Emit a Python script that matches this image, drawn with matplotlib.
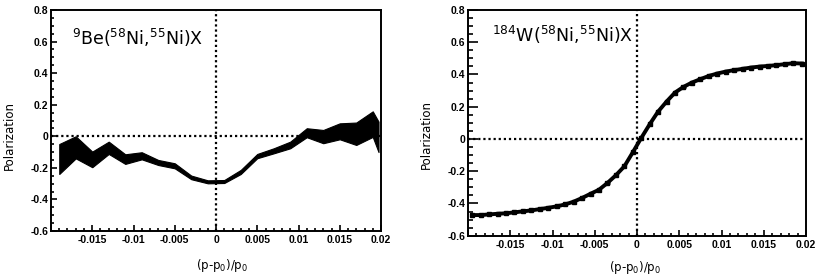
import matplotlib
matplotlib.use('Agg')
import matplotlib.pyplot as plt
import numpy as np
from matplotlib.ticker import MultipleLocator, FixedLocator

# left panel: 9Be target, band (upper/lower edge) per bin
be_x = [-0.019, -0.017, -0.015, -0.013, -0.011, -0.009, -0.007, -0.005, -0.003, -0.001,
        0.001, 0.003, 0.005, 0.007, 0.009, 0.011, 0.013, 0.015, 0.017, 0.019, 0.0197]
be_upper = [-0.049, 0.000, -0.097, -0.034, -0.114, -0.101, -0.150, -0.171, -0.249, -0.279,
            -0.277, -0.213, -0.112, -0.076, -0.034, 0.051, 0.040, 0.082, 0.087, 0.158, 0.093]
be_lower = [-0.239, -0.140, -0.196, -0.112, -0.175, -0.146, -0.182, -0.203, -0.272, -0.298,
            -0.296, -0.239, -0.139, -0.108, -0.076, -0.006, -0.044, -0.019, -0.055, -0.004, -0.100]

# right panel: 184W target, points every 0.001
w_x = [-0.0195 + 0.001 * i for i in range(40)]
w_pol = [-0.472, -0.472, -0.468, -0.464, -0.461, -0.455, -0.449, -0.443, -0.435, -0.427,
         -0.418, -0.406, -0.389, -0.366, -0.340, -0.315, -0.273, -0.225, -0.170, -0.083,
         0.006, 0.091, 0.170, 0.232, 0.288, 0.323, 0.350, 0.371, 0.391, 0.406,
         0.418, 0.427, 0.435, 0.443, 0.449, 0.453, 0.458, 0.464, 0.470, 0.468]
w_err = [0.012] * 40

xticks = [-0.015, -0.01, -0.005, 0, 0.005, 0.01, 0.015, 0.02]
xticklabels = ['-0.015', '-0.01', '-0.005', '0', '0.005', '0.01', '0.015', '0.02']
yticks = [-0.6, -0.4, -0.2, 0, 0.2, 0.4, 0.6, 0.8]
yticklabels = ['-0.6', '-0.4', '-0.2', '0', '0.2', '0.4', '0.6', '0.8']

plt.rcParams['mathtext.fontset'] = 'dejavusans'

fig = plt.figure(figsize=(8.17, 2.79), dpi=100)
W, H = 817.0, 279.0
ax1 = fig.add_axes([51 / W, 1 - 231 / H, 330 / W, 221 / H])
ax2 = fig.add_axes([468 / W, 1 - 235.7 / H, 338 / W, 225.7 / H])


def style(ax, ymaj, ymin):
    ax.set_xlim(-0.02, 0.02)
    ax.set_ylim(-0.6, 0.8)
    ax.xaxis.set_major_locator(FixedLocator([-0.02] + xticks))
    ax.set_xticklabels([''] + xticklabels)
    ax.xaxis.set_minor_locator(MultipleLocator(0.001))
    ax.set_yticks(yticks)
    ax.set_yticklabels(yticklabels)
    ax.yaxis.set_minor_locator(MultipleLocator(0.05))
    for lab in ax.get_xticklabels() + ax.get_yticklabels():
        lab.set_fontfamily('Liberation Sans')
        lab.set_fontweight('bold')
        lab.set_fontsize(7.5)
    ax.tick_params(axis='both', which='both', direction='in', top=False, right=False,
                   width=1.2, colors='black')
    ax.tick_params(axis='x', which='major', length=4, pad=3)
    ax.tick_params(axis='x', which='minor', length=2)
    ax.tick_params(axis='y', which='major', length=ymaj, pad=2)
    ax.tick_params(axis='y', which='minor', length=ymin)
    for sp in ax.spines.values():
        sp.set_linewidth(1.4)
    ax.axhline(0, color='black', ls=(0, (1, 1.3)), lw=1.6, zorder=1)
    ax.axvline(0, color='black', ls=(0, (1, 1.3)), lw=1.6, zorder=1)


style(ax1, 4.5, 2.3)
style(ax2, 7.5, 3.8)

ax1.fill_between(be_x, be_lower, be_upper, color='black', lw=0.8, zorder=2)

ax2.plot(w_x, w_pol, color='black', lw=2.8, zorder=2)
ax2.errorbar(w_x, w_pol, yerr=w_err, xerr=0.00025, fmt='s', ms=3.2, color='black',
             elinewidth=1.8, capsize=0, zorder=3)

ax1.text(0.064, 0.84, r'$^{9}$Be($^{58}$Ni,$^{55}$Ni)X', transform=ax1.transAxes,
         fontsize=12.5, va='baseline', ha='left')
ax2.text(0.071, 0.858, r'$^{184}$W($^{58}$Ni,$^{55}$Ni)X', transform=ax2.transAxes,
         fontsize=12.5, va='baseline', ha='left')

for ax, lx, ly in [(ax1, -0.126, 0.43), (ax2, -0.122, 0.45)]:
    ax.set_ylabel('Polarization', fontsize=8.5, va='center', ha='center')
    ax.yaxis.set_label_coords(lx, ly)
ax1.set_xlabel(r'(p-p$_{0}$)/p$_{0}$', fontsize=8.5, va='center')
ax1.xaxis.set_label_coords(0.518, -0.154)
ax2.set_xlabel(r'(p-p$_{0}$)/p$_{0}$', fontsize=8.5, va='center')
ax2.xaxis.set_label_coords(0.494, -0.139)

fig.savefig('out.png', dpi=100)
